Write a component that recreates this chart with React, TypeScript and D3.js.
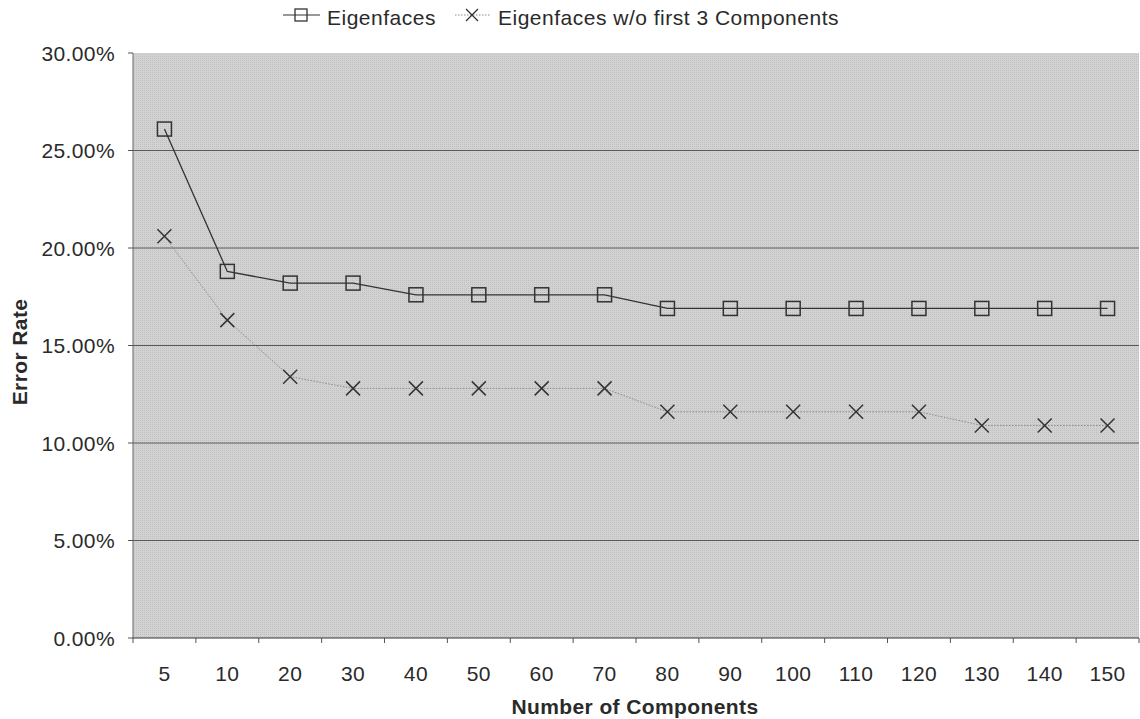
import React from "react";
import * as d3 from "d3";

const categories = ["5", "10", "20", "30", "40", "50", "60", "70", "80", "90", "100", "110", "120", "130", "140", "150"];
const eigenfaces = [26.1, 18.8, 18.2, 18.2, 17.6, 17.6, 17.6, 17.6, 16.9, 16.9, 16.9, 16.9, 16.9, 16.9, 16.9, 16.9];
const withoutFirst3 = [20.6, 16.3, 13.4, 12.8, 12.8, 12.8, 12.8, 12.8, 11.6, 11.6, 11.6, 11.6, 11.6, 10.9, 10.9, 10.9];
const yTicks = [0, 5, 10, 15, 20, 25, 30];

const W = 1140;
const H = 719;
const margin = {left: 133, right: 1, top: 53, bottom: 81};
const font = "'Liberation Sans', Arial, sans-serif";
const fs = 21;

export default function App() {
    const x = d3.scaleBand().domain(categories).range([margin.left, W - margin.right]);
    const y = d3.scaleLinear().domain([0, 30]).range([H - margin.bottom, margin.top]);

    const cx = (i: number) => (x(categories[i]) as number) + x.bandwidth() / 2;
    const line = d3.line<number>().x((_, i) => cx(i)).y(d => y(d));

    const bottom = H - margin.bottom;

    // small X marker path
    const cross = (px: number, py: number, s: number) =>
        `M${px - s},${py - s}L${px + s},${py + s}M${px - s},${py + s}L${px + s},${py - s}`;

    return (
        <svg width={W} height={H} style={{position: "absolute", left: 0, top: 0, background: "#fff"}}>
            <defs>
                <pattern id="dots" width="2" height="2" patternUnits="userSpaceOnUse">
                    <rect width="2" height="2" fill="#d2d2d2" />
                    <rect width="1" height="1" fill="#c0c0c0" />
                </pattern>
            </defs>
            <rect x={margin.left} y={margin.top} width={W - margin.right - margin.left} height={bottom - margin.top} fill="url(#dots)" />

            {/* gridlines */}
            {yTicks.filter(t => t > 0 && t < 30).map(t => (
                <line key={t} x1={margin.left} x2={W - margin.right} y1={y(t)} y2={y(t)} stroke="#5a5a5a" strokeWidth={1} />
            ))}

            {/* axes */}
            <line x1={margin.left} x2={margin.left} y1={margin.top} y2={bottom} stroke="#666" />
            <line x1={margin.left} x2={W - margin.right} y1={bottom} y2={bottom} stroke="#333" />
            {yTicks.map(t => (
                <g key={t}>
                    <line x1={margin.left - 5} x2={margin.left} y1={y(t)} y2={y(t)} stroke="#555" />
                    <text x={margin.left - 18} y={y(t)} dy="0.36em" textAnchor="end" fontFamily={font} fontSize={fs} letterSpacing={0.4} fill="#2a2a2a">
                        {d3.format(".2f")(t) + "%"}
                    </text>
                </g>
            ))}
            {categories.map((c, i) => (
                <g key={c}>
                    <line x1={x(c) as number} x2={x(c) as number} y1={bottom} y2={bottom + 5} stroke="#555" />
                    <text x={cx(i)} y={bottom + 35} dy="0.36em" textAnchor="middle" fontFamily={font} fontSize={fs} letterSpacing={0.4} fill="#2a2a2a">{c}</text>
                </g>
            ))}
            <line x1={W - margin.right} x2={W - margin.right} y1={bottom} y2={bottom + 5} stroke="#555" />

            {/* series */}
            <path d={line(withoutFirst3) as string} fill="none" stroke="#8a8a8a" strokeWidth={1} strokeDasharray="1.5,1.5" />
            <path d={line(eigenfaces) as string} fill="none" stroke="#333" strokeWidth={1.3} />
            {eigenfaces.map((v, i) => (
                <rect key={i} x={cx(i) - 7} y={y(v) - 7} width={14} height={14} fill="none" stroke="#333" strokeWidth={1.5} />
            ))}
            {withoutFirst3.map((v, i) => (
                <path key={i} d={cross(cx(i), y(v), 7)} stroke="#333" strokeWidth={1.5} fill="none" />
            ))}

            {/* axis titles */}
            <text transform="translate(27,352) rotate(-90)" textAnchor="middle" fontFamily={font} fontSize={fs} letterSpacing={0.4} fontWeight="bold" fill="#2a2a2a">Error Rate</text>
            <text x={635} y={714} textAnchor="middle" fontFamily={font} fontSize={fs} letterSpacing={0.4} fontWeight="bold" fill="#2a2a2a">Number of Components</text>

            {/* legend */}
            <g fontFamily={font} fontSize={fs} letterSpacing={0.5} fill="#2a2a2a">
                <line x1={283} x2={320} y1={15} y2={15} stroke="#333" strokeWidth={1.2} />
                <rect x={295} y={9} width={12} height={12} fill="none" stroke="#333" strokeWidth={1.3} />
                <text x={327} y={17} dy="0.36em">Eigenfaces</text>
                <line x1={455} x2={490} y1={15} y2={15} stroke="#8a8a8a" strokeDasharray="1.5,1.5" />
                <path d={cross(472, 15, 6)} stroke="#333" strokeWidth={1.3} fill="none" />
                <text x={498} y={17} dy="0.36em">Eigenfaces w/o first 3 Components</text>
            </g>
        </svg>
    );
}
